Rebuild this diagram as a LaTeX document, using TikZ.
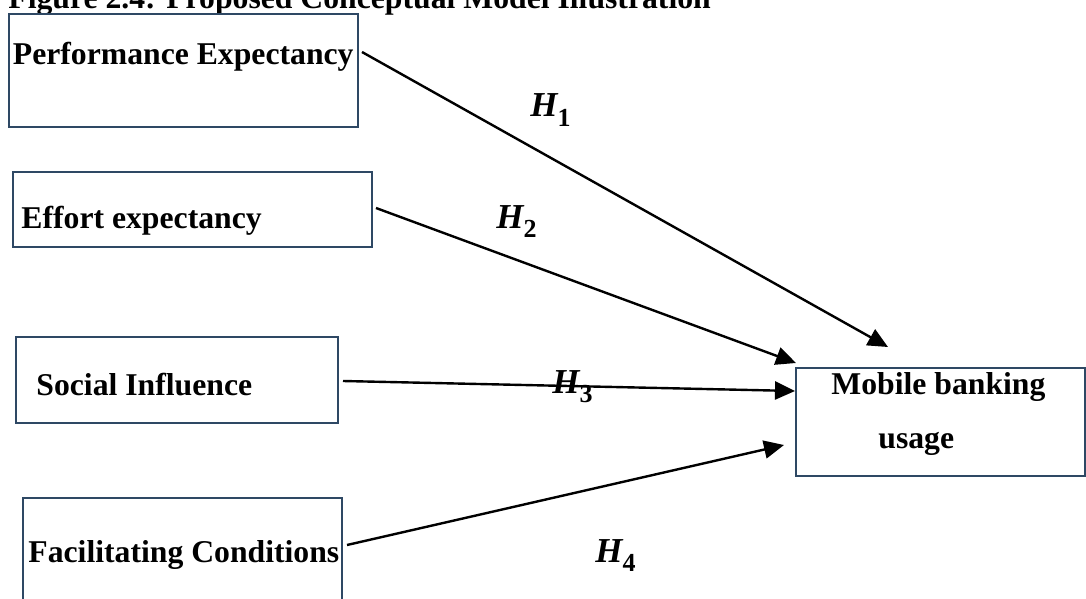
\documentclass[tikz,border=0pt]{standalone}
\usepackage{fontspec}
\setmainfont{Liberation Serif}
\usepackage{xcolor}
\definecolor{boxcolor}{RGB}{46,72,100}
\usetikzlibrary{arrows.meta, fit}

\newcommand{\hyp}[1]{{\fontsize{17.5}{19}\selectfont\itshape H}\raisebox{-0.3em}{\fontsize{13}{13}\selectfont #1}}

\begin{document}
\begin{tikzpicture}[x=0.5pt,y=-0.5pt,
    every node/.style={font=\fontsize{15.85}{19}\selectfont\bfseries, inner sep=0pt},
    construct/.style={draw=boxcolor, line width=1.2pt},
    boxtext/.style={anchor=base west},
    link/.style={line width=1.2pt, -{Triangle[length=10pt,width=9pt]}}]
    \useasboundingbox (0,0) rectangle (1086,599);
    \clip (0,0) rectangle (1086,599);

    \node[boxtext] (title) at (8,9) {Figure 2.4: Proposed Conceptual Model Illustration};

    % constructs
    \node[construct, fit={(9,14) (358,127)}] (pe) {};
    \node[construct, fit={(13,172) (372,247)}] (ee) {};
    \node[construct, fit={(16,337) (338,423)}] (si) {};
    \node[construct, fit={(23,498) (342,640)}] (fc) {};
    \node[construct, fit={(796,368) (1085,476)}] (mb) {};

    \node[boxtext] (pe-text) at (12.5,65) {Performance Expectancy};
    \node[boxtext] (ee-text) at (21,228) {Effort expectancy};
    \node[boxtext] (si-text) at (36,395) {Social Influence};
    \node[boxtext] (fc-text) at (28,562) {Facilitating Conditions};
    \node[boxtext] (mb-text) at (831,394) {Mobile banking};
    \node[boxtext] (mb-text2) at (878,448) {usage};

    % hypotheses
    \coordinate (pe-out) at (362,52);
    \coordinate (ee-out) at (376,208);
    \coordinate (si-out) at (343,381);
    \coordinate (fc-out) at (347,545);
    \coordinate (mb-in1) at (888,347);
    \coordinate (mb-in2) at (796,363);
    \coordinate (mb-in3) at (795,391);
    \coordinate (mb-in4) at (784,445);
    \foreach \a/\b in {pe-out/mb-in1, ee-out/mb-in2, si-out/mb-in3, fc-out/mb-in4}
      \draw[link] (\a) -- (\b);

    \node[boxtext] (h1) at (530,117) {\hyp{1}};
    \node[boxtext] (h2) at (496,228) {\hyp{2}};
    \node[boxtext] (h3) at (552,393) {\hyp{3}};
    \node[boxtext] (h4) at (595,562) {\hyp{4}};
\end{tikzpicture}
\end{document}
